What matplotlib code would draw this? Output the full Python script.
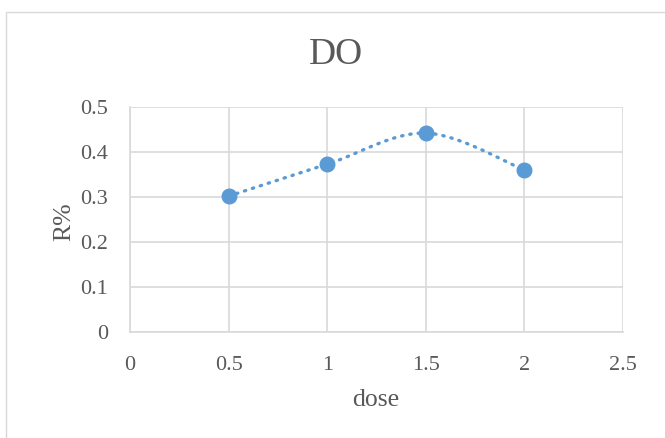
import numpy as np
import matplotlib.pyplot as plt
from matplotlib.patches import Rectangle

dose = [0.5, 1.0, 1.5, 2.0]
r_pct = [0.302, 0.373, 0.442, 0.360]
x_ticks = [0, 0.5, 1, 1.5, 2, 2.5]
y_ticks = [0, 0.1, 0.2, 0.3, 0.4, 0.5]

plt.rcParams['font.family'] = ['Liberation Serif', 'DejaVu Serif']
text_col = '#595959'
grid_col = '#d9d9d9'
blue = '#5b9bd5'


def smooth(xs, ys, n=40):
    # Excel-like smoothed line: cubic bezier with catmull-rom control points
    p = np.column_stack([xs, ys])
    pts = []
    for i in range(len(p) - 1):
        p0 = p[i - 1] if i > 0 else p[i]
        p3 = p[i + 2] if i + 2 < len(p) else p[i + 1]
        c1 = p[i] + (p[i + 1] - p0) / 6
        c2 = p[i + 1] - (p3 - p[i]) / 6
        t = np.linspace(0, 1, n)[:, None]
        seg = ((1 - t) ** 3) * p[i] + 3 * ((1 - t) ** 2) * t * c1 + 3 * (1 - t) * t ** 2 * c2 + t ** 3 * p[i + 1]
        pts.append(seg if i == 0 else seg[1:])
    pts = np.vstack(pts)
    return pts[:, 0], pts[:, 1]


fig = plt.figure(figsize=(6.65, 4.38), dpi=100)
fig.patches.append(Rectangle((6 / 665, -0.01), 1.0, 1 - 12 / 438 + 0.01, transform=fig.transFigure,
                             fill=False, edgecolor=grid_col, linewidth=1))
ax = fig.add_axes([130 / 665, 1 - 332 / 438, (623 - 130) / 665, (332 - 107) / 438])

sx, sy = smooth(dose, r_pct)
ax.plot(sx, sy, color=blue, linestyle=(0, (0.4, 2.1)), linewidth=2.4, dash_capstyle='round', zorder=3)
ax.plot(dose, r_pct, 'o', color=blue, markersize=10.5, zorder=4)

ax.set_xlim(0, 2.5)
ax.set_ylim(0, 0.5)
ax.set_xticks(x_ticks)
ax.set_xticklabels(['0', '0.5', '1', '1.5', '2', '2.5'])
ax.set_yticks(y_ticks)
ax.set_yticklabels(['0', '0.1', '0.2', '0.3', '0.4', '0.5'])
ax.grid(True, color=grid_col, linewidth=1.2)
ax.set_axisbelow(True)
for s in ['top', 'right']:
    ax.spines[s].set_visible(False)
for s in ['bottom', 'left']:
    ax.spines[s].set_color(grid_col)
    ax.spines[s].set_linewidth(1.2)
ax.tick_params(axis='y', length=0, labelsize=16, labelcolor=text_col, pad=16)
ax.tick_params(axis='x', length=0, labelsize=16, labelcolor=text_col, pad=17)

fig.text(376 / 665, 1 - 400 / 438, 'dose', fontsize=18.5, color=text_col, ha='center', va='center')
fig.text(64 / 665, 1 - 222 / 438, 'R%', fontsize=18.5, color=text_col, ha='center', va='center',
         rotation=90)
fig.text(336 / 665, 1 - 55 / 438, 'DO', fontsize=27, color=text_col, ha='center', va='center')

fig.savefig('out.png', dpi=100)
